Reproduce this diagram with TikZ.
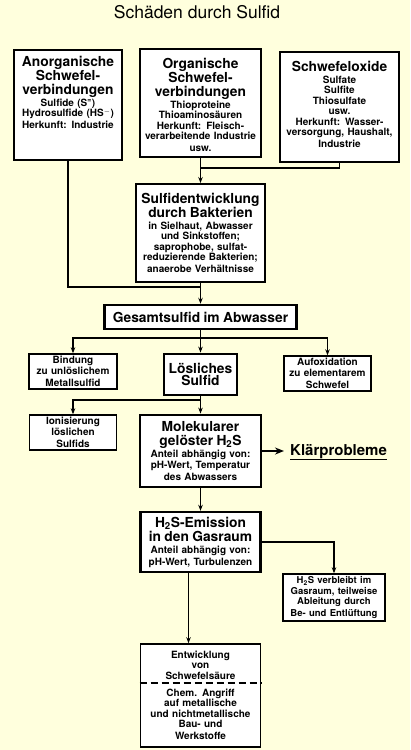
\documentclass[tikz,border=0pt]{standalone}
\usepackage{fontspec}
\setmainfont{TeX Gyre Heros}
\usetikzlibrary{arrows.meta}
\definecolor{papier}{RGB}{255,255,221}
\newcommand{\kopf}{\fontsize{13.8}{14}\selectfont\bfseries}
\newcommand{\klein}{\fontsize{10}{10.5}\selectfont\bfseries}

\begin{document}
\begin{tikzpicture}[x=1pt, y=-1pt,
  box/.style={draw, fill=white, line width=2pt, align=center, inner sep=1pt},
  bigbox/.style={box, line width=2.8pt},
  smallbox/.style={box, line width=1.4pt},
  txt/.style={align=center, inner sep=0pt},
  conn/.style={line width=1.6pt},
  pfeil/.style={conn, -{Stealth[length=6pt,width=4.5pt]}}]
  \fill[papier] (0,0) rectangle (410,750);
  \useasboundingbox (0,0) rectangle (410,750);
  % Titel
  \node (titel) at (197,12) {\fontsize{17.5}{20}\selectfont Schäden durch Sulfid};
  % Quellen: drei Kaesten oben, Text oben angesetzt
  \node[box, minimum width=108pt, minimum height=110pt] (anorg) at (68,105) {};
  \node[txt, anchor=north, text width=106pt] (anorgtxt) at ([yshift=-7pt]anorg.north)
    {\kopf Anorganische\\Schwefel-\\verbindungen\par\vspace{1.5pt}
     \klein Sulfide (S\textsuperscript{=})\\Hydrosulfide (HS\textsuperscript{$-$})\\Herkunft: Industrie};
  \node[box, minimum width=121pt, minimum height=108pt] (organ) at (200.5,103) {};
  \node[txt, anchor=north, text width=119pt] (organtxt) at ([yshift=-10pt]organ.north)
    {\kopf Organische\\Schwefel-\\verbindungen\par\vspace{1.5pt}
     \klein Thioproteine\\Thioaminosäuren\\Herkunft: Fleisch-\\verarbeitende Industrie\\usw.};
  \node[box, minimum width=119pt, minimum height=110pt] (oxide) at (339.5,107) {};
  \node[txt, anchor=north, text width=117pt] (oxidetxt) at ([yshift=-10pt]oxide.north)
    {\kopf Schwefeloxide\par\vspace{1.5pt}
     \klein Sulfate\\Sulfite\\Thiosulfate\\usw.\\Herkunft: Wasser-\\versorgung, Haushalt,\\Industrie};
  % Bakterien und Gesamtsulfid
  \node[box, text width=127pt, minimum height=98pt] (bakt) at (200.5,233)
    {\kopf Sulfidentwicklung\\durch Bakterien\par\vspace{1.5pt}
     \klein in Sielhaut, Abwasser\\und Sinkstoffen;\\saprophobe, sulfat-\\reduzierende Bakterien;\\anaerobe Verhältnisse};
  \node[box, line width=2.5pt, text width=190pt, minimum height=24pt] (gesamt) at (200.5,317)
    {\kopf Gesamtsulfid im Abwasser};
  % drei Wege
  \node[smallbox, text width=86pt, minimum height=35pt] (bindung) at (73,371.5)
    {\klein Bindung\\zu unlöslichem\\Metallsulfid};
  \node[bigbox, text width=71pt, minimum height=41pt] (loeslich) at (200.5,374.5)
    {\fontsize{13.8}{15}\selectfont\bfseries Lösliches\\Sulfid};
  \node[smallbox, text width=85pt, minimum height=35pt] (aufox) at (327.5,373.5)
    {\klein Aufoxidation\\zu elementarem\\Schwefel};
  \node[smallbox, text width=85pt, minimum height=35pt] (ionis) at (73,432.5)
    {\klein Ionisierung\\löslichen\\Sulfids};
  \node[bigbox, text width=119pt, minimum height=72pt] (molek) at (200.5,451)
    {\kopf Molekularer\\gelöster H\textsubscript{2}S\par\vspace{1.5pt}
     \klein Anteil abhängig von:\\pH-Wert, Temperatur\\des Abwassers};
  \node[anchor=base west, inner sep=0pt] (klaer) at (290,455)
    {\fontsize{15}{17}\selectfont\bfseries\underline{Klärprobleme}};
  \node[box, line width=2.4pt, text width=118pt, minimum height=60pt] (emiss) at (200.5,542)
    {\kopf H\textsubscript{2}S-Emission\\in den Gasraum\par\vspace{1.5pt}
     \klein Anteil abhängig von:\\pH-Wert, Turbulenzen};
  \node[smallbox, text width=100pt, minimum height=47pt] (verbl) at (334,597.5)
    {\fontsize{9.5}{10.5}\selectfont\bfseries H\textsubscript{2}S verbleibt im\\Gasraum, teilweise\\Ableitung durch\\Be- und Entlüftung};
  \node[smallbox, line width=1.6pt, text width=118pt, minimum height=103pt] (saeure) at (200.5,695.5)
    {\klein Entwicklung\\von\\Schwefelsäure\\[6.5pt]Chem. Angriff\\auf metallische\\und nichtmetallische\\Bau- und\\Werkstoffe};
  \coordinate (D) at (200.5,683);
  \draw[line width=1.4pt, dash pattern=on 7pt off 4pt] (saeure.west |- D) -- (saeure.east |- D);
  % Verbindungen
  \coordinate (J1) at (200.5,168);
  \coordinate (J2) at (200.5,287);
  \coordinate (J3) at (200.5,338);
  \coordinate (J4) at (200.5,400);
  \draw[pfeil] (organ.south) -- (bakt.north);
  \draw[conn] (oxide.south) |- (J1);
  \draw[conn] (anorg.south) |- (J2);
  \draw[pfeil] (bakt.south) -- (gesamt.north);
  \draw[conn] (gesamt.south) -- (J3);
  \draw[pfeil] (J3) -| (bindung.north);
  \draw[pfeil] (J3) -| (aufox.north);
  \draw[pfeil] (J3) -- (loeslich.north);
  \draw[conn] (loeslich.south) -- (J4);
  \draw[pfeil] (J4) -| (ionis.north);
  \draw[pfeil] (J4) -- (molek.north);
  \draw[line width=2pt, -{Stealth[length=9pt,width=7pt]}, shorten >=6pt] (molek.east) -- (molek.east -| klaer.west);
  \draw[pfeil] (molek.south) -- (emiss.north);
  \draw[pfeil] (emiss.east) -| (verbl.north);
  \draw[pfeil] ([xshift=-12pt]emiss.south) -- ([xshift=-12pt]saeure.north);
\end{tikzpicture}
\end{document}
